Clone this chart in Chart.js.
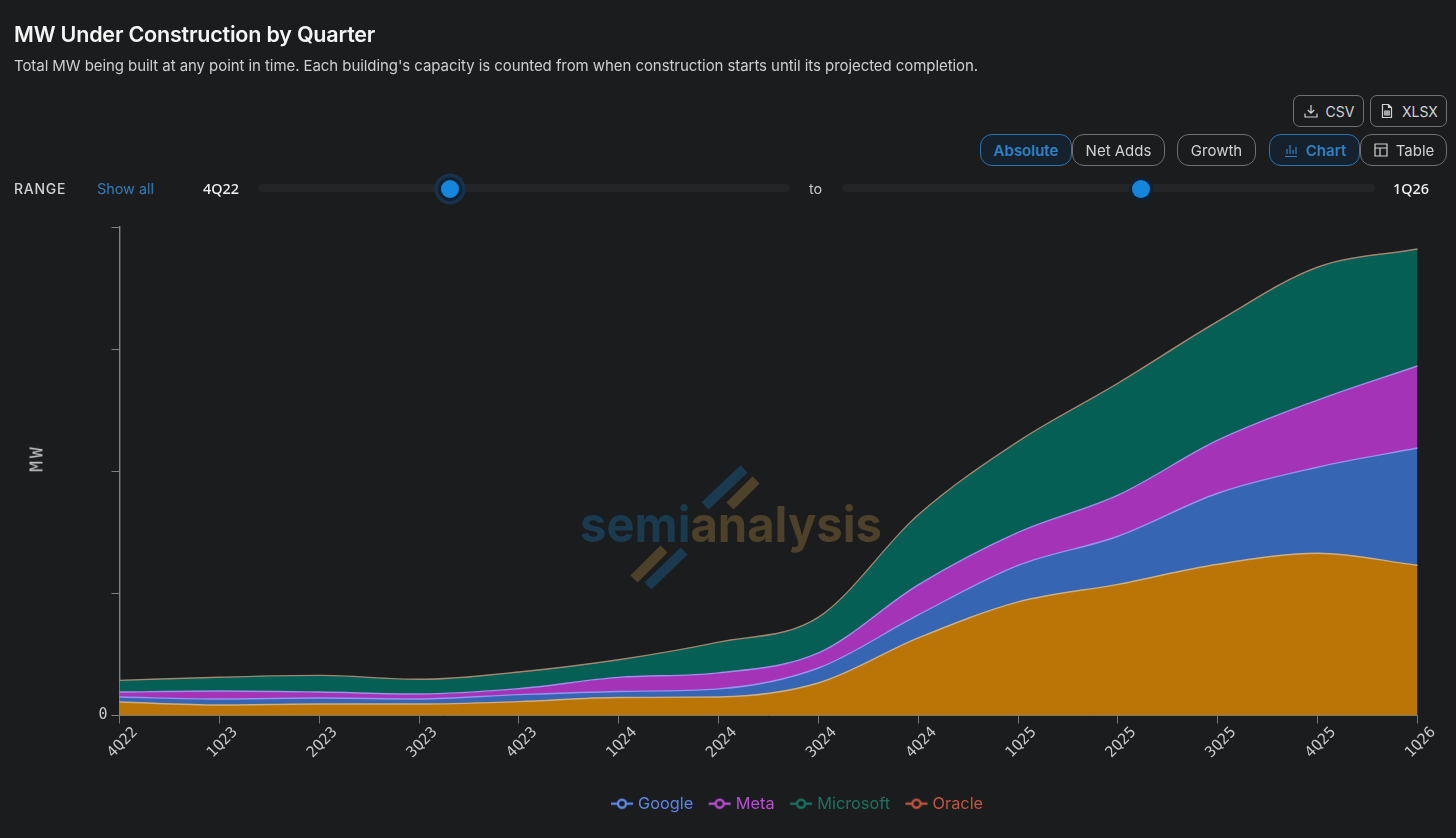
<!DOCTYPE html>
<html>
<head>
<meta charset="utf-8">
<title>MW Under Construction by Quarter</title>
<script src="https://cdn.jsdelivr.net/npm/chart.js@4"></script>
<style>
  html, body { margin: 0; padding: 0; background: #1b1c1e; }
  body { width: 1456px; height: 838px; overflow: hidden; position: relative; font-family: Inter, "Noto Sans", sans-serif; color: #d6d6d6; }
  .abs { position: absolute; white-space: nowrap; }
  h1 { margin: 0; left: 14px; top: 20px; font-size: 21.5px; line-height: 28px; font-weight: 600; color: #f4f4f4; letter-spacing: -0.2px; }
  .sub { left: 14px; top: 55px; font-size: 15px; line-height: 21px; color: #cfcfcf; letter-spacing: -0.07px; }
  .btn { box-sizing: border-box; display: flex; align-items: center; justify-content: center; gap: 7px; border: 1px solid #6f7072; color: #d2d2d2; font-size: 15px; background: #1b1c1e; }
  .btn svg { width: 16px; height: 16px; fill: none; stroke: currentColor; stroke-width: 1.2; }
  .dl { border-radius: 7px; font-size: 14px; }
  .pill { border-radius: 12px; }
  .on { border-color: #2a74b0; background: #15222e; color: #2f80c4; font-weight: 600; }
  .range { left: 14px; top: 180px; font-size: 14px; line-height: 18px; font-weight: 500; color: #d2d2d2; letter-spacing: .75px; }
  .link { left: 97px; top: 180px; font-size: 14.4px; line-height: 18px; color: #2f7dbd; }
  .qt { top: 180px; font-family: "Noto Sans", sans-serif; font-size: 14.4px; line-height: 18px; font-weight: 500; color: #f2f2f2; }
  .track { top: 184px; height: 8px; border-radius: 4px; background: #232527; }
  .thumb { width: 18px; height: 18px; border-radius: 50%; top: 180px; background: #1487dc; }
  .halo { box-shadow: 0 0 0 3px #0f2233, 0 0 0 6.5px #17324a; }
  .to { left: 809px; top: 180px; font-size: 14.4px; line-height: 18px; color: #c8c8c8; }
  .ytitle { left: 36px; top: 457.5px; transform: translate(-50%, -50%) rotate(-90deg); font-family: "DejaVu Sans Mono", monospace; font-size: 18px; letter-spacing: 3px; color: #c4c4c4; }
  canvas#chart { position: absolute; left: 0; top: 0; }
  svg.mark { position: absolute; left: 570px; top: 460px; }
</style>
</head>
<body>
<svg class="mark" width="330" height="140" viewBox="0 0 330 140">
  <g stroke-width="10" stroke-linecap="butt">
    <line x1="135" y1="46" x2="174" y2="9" stroke="#1a3a50"/>
    <line x1="160" y1="46" x2="186" y2="20" stroke="#4e412a"/>
    <line x1="64" y1="119" x2="94" y2="89" stroke="#4e412a"/>
    <line x1="78" y1="126" x2="114" y2="91" stroke="#1a3a50"/>
  </g>
  <text y="82" x="10" font-family="Inter" font-weight="700" font-size="50" textLength="302" lengthAdjust="spacingAndGlyphs"><tspan fill="#1a3a50">semi</tspan><tspan fill="#4e412a">analysis</tspan></text>
</svg>
<canvas id="chart" width="1456" height="838"></canvas>

<h1 class="abs">MW Under Construction by Quarter</h1>
<div class="abs sub">Total MW being built at any point in time. Each building's capacity is counted from when construction starts until its projected completion.</div>
<div class="abs ytitle">MW</div>

<div class="abs btn dl" style="left:1293px;top:95px;width:71px;height:32px"><svg viewBox="0 0 16 16"><path d="M8 2v8M4.800 7 8 10.200 11.200 7M2 10.500V14h12v-3.500"/></svg>CSV</div>
<div class="abs btn dl" style="left:1370px;top:95px;width:77px;height:32px"><svg viewBox="0 0 16 16"><path d="M3.500 1.500h6l3 3v10h-9zM9.500 1.500v3h3M5.800 8h4.400v4H5.800zM8 8v4M5.800 10h4.400"/></svg>XLSX</div>
<div class="abs btn pill on" style="left:980px;top:134px;width:92px;height:32px">Absolute</div>
<div class="abs btn pill" style="left:1072px;top:134px;width:93px;height:32px">Net Adds</div>
<div class="abs btn pill" style="left:1177px;top:134px;width:79px;height:32px">Growth</div>
<div class="abs btn pill on" style="left:1269px;top:134px;width:91px;height:32px"><svg viewBox="0 0 16 16"><path d="M2 14.500h12M4 12V7M7 12V3M10 12V8M13 12V5"/></svg>Chart</div>
<div class="abs btn pill" style="left:1360px;top:134px;width:87px;height:32px"><svg viewBox="0 0 16 16"><path d="M2 2h12v12H2zM2 6h12M7 6v8"/></svg>Table</div>

<div class="abs range">RANGE</div>
<div class="abs link">Show all</div>
<div class="abs qt" style="left:203px">4Q22</div>
<div class="abs track" style="left:258px;width:532px"></div>
<div class="abs thumb halo" style="left:441px"></div>
<div class="abs to">to</div>
<div class="abs track" style="left:842px;width:533px"></div>
<div class="abs thumb" style="left:1132px;box-shadow:0 0 0 3px #0f2233"></div>
<div class="abs qt" style="left:1393px">1Q26</div>

<script>
// Quarterly capacity under construction, MW per operator.
const quarters = ['4Q22','1Q23','2Q23','3Q23','4Q23','1Q24','2Q24','3Q24','4Q24','1Q25','2Q25','3Q25','4Q25','1Q26'];
const baseOperator = [550,430,470,470,570,740,760,1330,3175,4650,5370,6190,6640,6150];
const google    = [205,245,245,205,285,245,330,615,945,1495,1970,2910,3525,4800];
const meta      = [205,330,245,205,245,575,655,615,1230,1350,1680,2170,2750,3360];
const microsoft = [450,535,655,575,655,695,1230,1435,2830,3690,4550,4835,5410,4755];
const oracle    = [15,15,15,15,15,15,15,15,20,20,20,20,20,20];
const yMax = 20000;
const yStep = 5000;

const seriesStyles = [
  { label: 'Base',      data: baseOperator, fill: '#bb7507', line: '#c9b08a', width: 1.4, legend: null },
  { label: 'Google',    data: google,       fill: '#3565b3', line: '#9a93ee', width: 1.4, legend: '#5f86e6' },
  { label: 'Meta',      data: meta,         fill: '#a533b8', line: '#9c90e8', width: 1.4, legend: '#b84fd0' },
  { label: 'Microsoft', data: microsoft,    fill: '#065f55', line: 'rgba(0,0,0,0)', width: 1.4, legend: '#1c7363' },
  { label: 'Oracle',    data: oracle,       fill: '#b0553f', line: '#a28672', width: 2, legend: '#c05640' }
];

// Legend glyph: a short stroke through a hollow dot.
function legendGlyph(color) {
  const c = document.createElement('canvas');
  c.width = 24; c.height = 12;
  const g = c.getContext('2d');
  g.strokeStyle = color; g.lineWidth = 2.4;
  g.beginPath(); g.moveTo(1, 6); g.lineTo(23, 6); g.stroke();
  g.fillStyle = '#1b1c1e';
  g.beginPath(); g.arc(12, 6, 4, 0, Math.PI * 2); g.fill(); g.stroke();
  return c;
}

// Moves the legend block to its place under the plot.
const legendPlacement = {
  id: 'legendPlacement',
  afterLayout(chart) {
    const l = chart.legend;
    const shift = 798.5 - (l.left + l.right) / 2;
    l.left += shift; l.right += shift;
    l.top = 777;
    l.bottom = 777 + l.height;
  }
};

new Chart(document.getElementById('chart'), {
  type: 'line',
  data: {
    labels: quarters,
    datasets: seriesStyles.map((s, i) => ({
      label: s.label,
      data: s.data,
      backgroundColor: s.fill,
      borderColor: s.line,
      borderWidth: s.width,
      fill: i === 0 ? 'origin' : '-1',
      pointRadius: 0,
      cubicInterpolationMode: 'monotone'
    }))
  },
  plugins: [legendPlacement],
  options: {
    responsive: false,
    animation: false,
    layout: { padding: { top: 227, right: 38.5, left: 0, bottom: 0 } },
    interaction: { mode: null },
    scales: {
      x: {
        type: 'category',
        offset: false,
        grid: { drawOnChartArea: false, drawTicks: true, tickLength: 8, color: '#77787a' },
        border: { color: '#77787a' },
        ticks: { color: '#c9c9c9', autoSkip: false, minRotation: 45, maxRotation: 45, labelOffset: 16, padding: 0, font: { family: '"DejaVu Sans Mono"', size: 15 } },
        afterFit(s) { s.height = 122.5 - (s.chart.legend ? s.chart.legend.height : 0); }
      },
      y: {
        stacked: true,
        min: 0,
        max: yMax,
        grid: { drawOnChartArea: false, drawTicks: true, tickLength: 8, color: '#808183' },
        border: { color: '#808183', width: 1.4 },
        ticks: { stepSize: yStep, color: '#c9c9c9', padding: 4, font: { family: '"DejaVu Sans Mono"', size: 15 }, callback: v => v === 0 ? '0' : '' },
        afterFit(s) { s.width = 119.5; }
      }
    },
    plugins: {
      tooltip: { enabled: false },
      legend: {
        position: 'bottom',
        labels: {
          usePointStyle: true,
          pointStyleWidth: 16,
          padding: 18.5,
          font: { family: 'Inter', size: 16.3 },
          generateLabels: () => seriesStyles
            .map((s, i) => ({ text: s.label, fontColor: s.legend, pointStyle: s.legend ? legendGlyph(s.legend) : null, datasetIndex: i, lineWidth: 0, fillStyle: 'transparent', strokeStyle: 'transparent', hidden: false }))
            .filter(item => seriesStyles[item.datasetIndex].legend)
        }
      }
    }
  }
});
</script>
</body>
</html>
